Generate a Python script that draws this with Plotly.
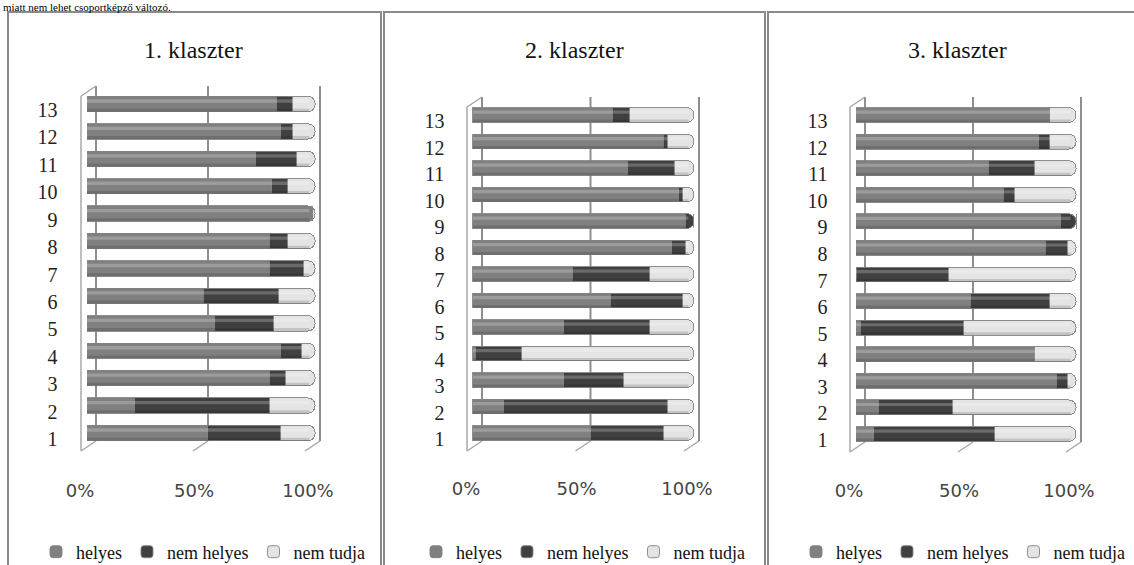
import plotly.graph_objects as go

# ---------------- data ----------------
categories = list(range(1, 14))
series_names = ["helyes", "nem helyes", "nem tudja"]
panel_titles = ["1. klaszter", "2. klaszter", "3. klaszter"]
x_tick_vals = [0, 50, 100]
x_tick_text = ["0%", "50%", "100%"]
header_text = "miatt nem lehet csoportképző változó."

# values in percent, rows 1..13
k1_helyes     = [53, 21, 80, 85, 56, 51, 80, 80, 99, 81, 74, 85, 83]
k1_nem_helyes = [32, 59,  7,  9, 26, 33, 15,  8,  0,  7, 18,  5,  7]
k1_nem_tudja  = [15, 20, 13,  6, 18, 16,  5, 12,  1, 12,  8, 10, 10]

k2_helyes     = [53, 14, 41,  1, 41, 62, 45, 90, 96, 93, 70, 86, 63]
k2_nem_helyes = [33, 74, 27, 21, 39, 33, 35,  6,  4,  2, 21,  2,  8]
k2_nem_tudja  = [14, 12, 32, 78, 20,  5, 20,  4,  0,  5,  9, 12, 29]

k3_helyes     = [ 8, 10, 91, 81,  2, 52,  0, 86, 93, 67, 60, 83, 88]
k3_nem_helyes = [55, 34,  5,  0, 47, 36, 42, 10,  7,  5, 21,  5,  0]
k3_nem_tudja  = [37, 56,  4, 19, 51, 12, 58,  4,  0, 28, 19, 12, 12]

panel_data = [
    [k1_helyes, k1_nem_helyes, k1_nem_tudja],
    [k2_helyes, k2_nem_helyes, k2_nem_tudja],
    [k3_helyes, k3_nem_helyes, k3_nem_tudja],
]

# ---------------- style / layout ----------------
W, H = 1134, 565
colors = ["#808080", "#404040", "#e4e4e4"]
SERIF = "Liberation Serif"
SANS = "DejaVu Sans"
BAR_W = 0.56

panels = [
    dict(bar0=87, bar100=315, y13=104, y1=433, title_x=193, legend_x=203, box=(8, 381)),
    dict(bar0=473, bar100=694, y13=115, y1=433, title_x=574, legend_x=583, box=(384, 765)),
    dict(bar0=856, bar100=1076, y13=115, y1=434, title_x=957, legend_x=963, box=(768, 1140)),
]
XR = (-12.5, 106)
YR = (-0.3, 14.2)

fig = go.Figure()
shapes = []
annotations = []
layout_axes = {}

for i, (pan, vals, title) in enumerate(zip(panels, panel_data, panel_titles)):
    sfx = "" if i == 0 else str(i + 1)
    xa, ya = "x" + sfx, "y" + sfx
    leg = "legend" + sfx
    p = (pan["bar100"] - pan["bar0"]) / 100.0
    s = (pan["y1"] - pan["y13"]) / 12.0
    left_px = pan["bar0"] + XR[0] * p
    right_px = pan["bar0"] + XR[1] * p
    top_px = pan["y13"] - (YR[1] - 13) * s
    bot_px = pan["y1"] + (1 - YR[0]) * s

    def xd(px, pan=pan, p=p):
        return (px - pan["bar0"]) / p

    def yd(px, pan=pan, s=s):
        return 13 - (px - pan["y13"]) / s

    for name, v, c in zip(series_names, vals, colors):
        fig.add_trace(go.Bar(
            y=categories, x=v, orientation="h", name=name, width=BAR_W,
            marker=dict(color=c, line=dict(color="rgba(130,130,130,0.9)", width=1)),
            xaxis=xa, yaxis=ya, legend=leg, hoverinfo="skip",
        ))

    # cylinder shading (highlight band on top, shadow at bottom of each bar)
    totals = [a + b + c for a, b, c in zip(*vals)]
    for cat, tot in zip(categories, totals):
        shapes.append(dict(type="rect", xref=xa, yref=ya, layer="above",
                           x0=0, x1=tot - 2.5, y0=cat + 0.05, y1=cat + 0.17,
                           fillcolor="rgba(255,255,255,0.22)", line=dict(width=0)))
        shapes.append(dict(type="rect", xref=xa, yref=ya, layer="above",
                           x0=0, x1=tot - 2.5, y0=cat - BAR_W / 2, y1=cat - 0.17,
                           fillcolor="rgba(0,0,0,0.14)", line=dict(width=0)))

    layout_axes["xaxis" + sfx] = dict(
        domain=[left_px / W, right_px / W], range=list(XR), anchor=ya,
        tickvals=x_tick_vals, ticktext=x_tick_text,
        showgrid=False, zeroline=False, showline=False, ticks="",
        tickfont=dict(family=SANS, size=18, color="#444444"),
        ticklabelshift=-7, ticklabelstandoff=9, fixedrange=True, automargin=False,
    )
    layout_axes["yaxis" + sfx] = dict(
        domain=[1 - bot_px / H, 1 - top_px / H], range=list(YR), anchor=xa,
        tickvals=categories, ticktext=[str(c) for c in categories],
        showgrid=False, zeroline=False, showline=False, ticks="",
        tickfont=dict(family=SERIF, size=20, color="#222222"),
        ticklabelshift=6, fixedrange=True, automargin=False,
    )

    # 3D-ish wall: back gridlines, floor diagonals, left side wall
    back_top = pan["y13"] - 18
    back_bot = pan["y1"] + 8
    front_bot = back_bot + 10
    side_top = back_top + 10
    line_grid = dict(color="#8e8e8e", width=2)
    line_side = dict(color="#a8a8a8", width=1.5)
    for t in x_tick_vals:
        bx = pan["bar0"] + t * p + 9 - 4 * t / 100.0
        fx = bx - 15
        shapes.append(dict(type="line", xref=xa, yref=ya, layer="below",
                           x0=xd(bx), x1=xd(bx), y0=yd(back_bot), y1=yd(back_top), line=line_grid))
        shapes.append(dict(type="line", xref=xa, yref=ya, layer="below",
                           x0=xd(bx), x1=xd(fx), y0=yd(back_bot), y1=yd(front_bot), line=line_side))
    bx0 = pan["bar0"] + 9
    fx0 = bx0 - 15
    shapes.append(dict(type="line", xref=xa, yref=ya, layer="below",
                       x0=xd(fx0), x1=xd(fx0), y0=yd(front_bot), y1=yd(side_top), line=line_side))
    shapes.append(dict(type="line", xref=xa, yref=ya, layer="below",
                       x0=xd(fx0), x1=xd(bx0), y0=yd(side_top), y1=yd(back_top), line=line_side))

    # panel frame
    shapes.append(dict(type="rect", xref="paper", yref="paper", layer="below",
                       x0=pan["box"][0] / W, x1=pan["box"][1] / W, y0=-0.05, y1=1 - 12 / H,
                       line=dict(color="#8a8a8a", width=2), fillcolor="rgba(0,0,0,0)"))

    annotations.append(dict(text=title, xref="paper", yref="paper",
                            x=pan["title_x"] / W, y=1 - 50 / H, xanchor="center", yanchor="middle",
                            showarrow=False, font=dict(family=SERIF, size=24, color="#111111")))

    layout_axes[leg] = dict(orientation="h", xref="container", yref="container",
                            x=pan["legend_x"] / W, xanchor="center",
                            y=1 - 552 / H, yanchor="middle", bgcolor="rgba(0,0,0,0)",
                            font=dict(family=SERIF, size=18, color="#111111"),
                            traceorder="normal", itemclick=False, itemdoubleclick=False)

annotations.append(dict(text=header_text, xref="paper", yref="paper",
                        x=2 / W, y=1, xanchor="left", yanchor="top", borderpad=0,
                        showarrow=False, font=dict(family=SERIF, size=11, color="#000000")))

fig.update_layout(
    width=W, height=H, autosize=False,
    margin=dict(l=0, r=0, t=0, b=0, autoexpand=False),
    paper_bgcolor="white", plot_bgcolor="rgba(0,0,0,0)",
    barmode="stack", barcornerradius=7,
    shapes=shapes, annotations=annotations,
    **layout_axes,
)

fig.write_html("out.html", config={"displayModeBar": False})
